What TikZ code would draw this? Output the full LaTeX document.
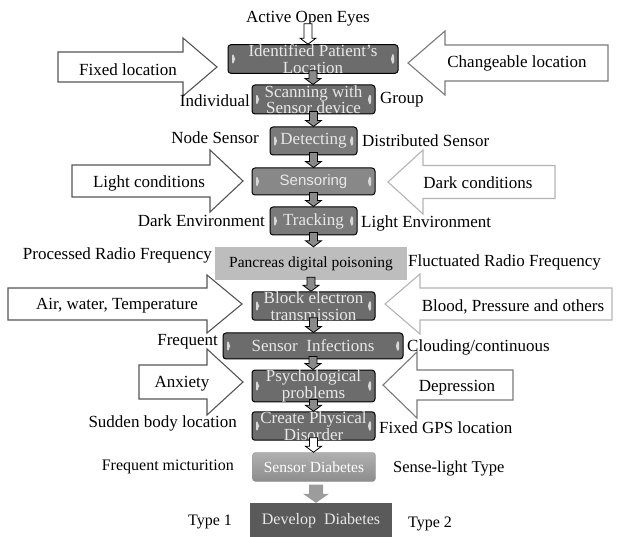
\documentclass[tikz,border=0pt]{standalone}
\usepackage{fontspec}
\setmainfont{Liberation Serif}
\newfontfamily\sansf{Liberation Sans}
\usetikzlibrary{calc}
\definecolor{boxgray}{HTML}{6C6C6C}
\definecolor{boxlight}{HTML}{888888}
\definecolor{boxmid}{HTML}{7A7A7A}
\definecolor{boxtext}{HTML}{E8E8E8}
\definecolor{marklight}{HTML}{D8D8D8}
\definecolor{pangray}{HTML}{BDBDBD}
\definecolor{arrdark}{HTML}{555555}
\definecolor{arrmid}{HTML}{7A7A7A}
\definecolor{arrlight}{HTML}{B4B4B4}
\definecolor{conngray}{HTML}{8A8A8A}
\definecolor{biggray}{HTML}{9C9C9C}
\definecolor{devgray}{HTML}{5A5A5A}
\tikzset{
  stage/.style={draw=black, line width=1pt, rounded corners=3pt, fill=boxgray,
    text=boxtext, inner sep=0pt, align=center,
    font=\fontsize{17}{16.5}\selectfont,
    path picture={
      \fill[marklight] ($(path picture bounding box.west)+(4pt,6pt)$) -- ++(3pt,-4pt) -- ++(0,-4pt) -- ++(-3pt,-4pt) -- cycle;
      \fill[marklight] ($(path picture bounding box.east)+(-4pt,6pt)$) -- ++(-3pt,-3pt) -- ++(0,-6pt) -- ++(3pt,-3pt) -- cycle;
    }},
  lbl/.style={font=\fontsize{17}{20}\selectfont, inner sep=0pt},
  arrtext/.style={font=\fontsize{17}{20}\selectfont, inner sep=0pt},
  hollow/.style={fill=white, line width=1.1pt, line join=miter},
}
\newcommand\harrow[7][arrdark]{\draw[hollow,draw=#1] (#2,#5-#6) -- (#3,#5-#6) -- (#3,#5-#7) -- (#4,#5) -- (#3,#5+#7) -- (#3,#5+#6) -- (#2,#5+#6) -- cycle;}
\newcommand\conn[3][conngray]{\path let \p1=($(#2.south)+(0,3pt)$), \p2=(#3.north) in
  [draw=black, fill=#1, line width=0.8pt, line join=miter]
  (\x1-4pt,\y1) -- (\x1+4pt,\y1) -- (\x1+4pt,\y2+6pt) -- (\x1+8pt,\y2+6pt) -- (\x1,\y2)
  -- (\x1-8pt,\y2+6pt) -- (\x1-4pt,\y2+6pt) -- cycle;}
\begin{document}
\begin{tikzpicture}[x=1pt,y=-1pt]
\useasboundingbox[fill=white] (0,0) rectangle (619,537);

% side hollow arrows
\harrow{58}{183}{217}{67}{15}{29}
\harrow[arrmid]{608}{445}{408}{63}{18}{32}
\harrow{72}{210}{243}{181}{16}{31}
\harrow[arrlight]{555}{423}{388}{182}{16.5}{32}
\harrow{8}{207}{242}{304}{16}{29}
\harrow[arrlight]{612}{420}{385}{304}{16}{30}
\harrow{139}{207}{243}{382}{17}{33}
\harrow[arrmid]{513}{417}{383}{385}{15}{33}

\node[arrtext] (tfixed) at (128,70) {Fixed location};
\node[arrtext] (tchange) at (517,63) {Changeable location};
\node[arrtext] (tlight) at (149,183) {Light conditions};
\node[arrtext] (tdark) at (478,183) {Dark conditions};
\node[arrtext] (tair) at (117,306) {Air, water, Temperature};
\node[arrtext] (tblood) at (513,307) {Blood, Pressure and others};
\node[arrtext] (tanx) at (182,384) {Anxiety};
\node[arrtext] (tdep) at (457,388) {Depression};

% main stages
\node[lbl] (eyes) at (308,19) {Active Open Eyes};
\node[stage, minimum width=170, minimum height=28] (b1) at (313,59) {Identified Patient's\\Location};
\node[stage, minimum width=123, minimum height=29] (b2) at (313.5,99.5) {Scanning with\\Sensor device};
\node[stage, fill=boxmid, minimum width=87, minimum height=28] (b3) at (313.5,141) {Detecting};
\node[stage, fill=boxlight, minimum width=123, minimum height=27, font=\sansf\fontsize{15}{15}\selectfont] (b4) at (313.5,181.5) {Sensoring};
\node[stage, fill=boxmid, minimum width=87, minimum height=28] (b5) at (313.5,221) {Tracking};
\node[fill=pangray, minimum width=192, minimum height=33, inner sep=0pt, font=\fontsize{15.5}{18}\selectfont] (pan) at (311,263.5) {Pancreas digital poisoning};
\node[stage, minimum width=123, minimum height=28] (blk) at (313.5,306) {Block electron\\transmission};
\node[stage, minimum width=180, minimum height=26] (inf) at (313,346) {Sensor\ \ Infections};
\node[stage, minimum width=123, minimum height=28] (psy) at (313.5,386) {Psychological\\problems};
\node[stage, minimum width=123, minimum height=28] (cre) at (313.5,426) {Create Physical\\Disorder};
\node[draw=biggray, rounded corners=3pt, top color=biggray!80!white, bottom color=biggray!90!black,
  text=white, minimum width=123, minimum height=29, inner sep=0pt,
  font=\fontsize{15.5}{18}\selectfont] (sd) at (314,467) {Sensor Diabetes};
\node[fill=devgray, text=boxtext, minimum width=142, minimum height=36, inner sep=0pt,
  font=\fontsize{16}{18}\selectfont] (dd) at (321,521) {Develop\ \ Diabetes};

% connectors
\conn[white]{eyes}{b1}
\conn{b1}{b2}
\conn{b2}{b3}
\conn{b3}{b4}
\conn{b4}{b5}
\conn{b5}{pan}
\conn{pan}{blk}
\conn{blk}{inf}
\conn{inf}{psy}
\conn{psy}{cre}
\conn[white]{cre}{sd}
\path let \p1=($(sd.south)+(2pt,-3pt)$), \p2=(dd.north) in
  [fill=biggray]
  (\x1-7pt,\y1) -- (\x1+7pt,\y1) -- (\x1+7pt,\y2+9pt) -- (\x1+13pt,\y2+9pt) -- (\x1,\y2)
  -- (\x1-13pt,\y2+9pt) -- (\x1-7pt,\y2+9pt) -- cycle;

% side labels
\node[lbl, anchor=east] (lind) at (250,101) {Individual};
\node[lbl, anchor=west] (lgrp) at (380,100) {Group};
\node[lbl, anchor=east] (lnode) at (259,138) {Node Sensor};
\node[lbl, anchor=west] (ldist) at (362,141) {Distributed Sensor};
\node[lbl, anchor=east] (ldarkenv) at (265,221) {Dark Environment};
\node[lbl, anchor=west] (llightenv) at (361,223) {Light Environment};
\node[lbl, anchor=east] (lproc) at (212,255) {Processed Radio Frequency};
\node[lbl, anchor=west] (lfluct) at (408,262) {Fluctuated Radio Frequency};
\node[lbl, anchor=east] (lfreq) at (218,342) {Frequent};
\node[lbl, anchor=west] (lcloud) at (407,347) {Clouding/continuous};
\node[lbl, anchor=east] (lsudden) at (237,423) {Sudden body location};
\node[lbl, anchor=east, font=\fontsize{16}{18}\selectfont] (lmict) at (234,467) {Frequent micturition};
\node[lbl, anchor=west] (lgps) at (379,428) {Fixed GPS location};
\node[lbl, anchor=west, font=\fontsize{16.5}{18}\selectfont] (lsense) at (393,469) {Sense-light Type};
\node[lbl, font=\fontsize{16}{18}\selectfont] (ltype1) at (210,522) {Type 1};
\node[lbl, anchor=west, font=\fontsize{16}{18}\selectfont] (ltype2) at (408,524) {Type 2};
\end{tikzpicture}
\end{document}
